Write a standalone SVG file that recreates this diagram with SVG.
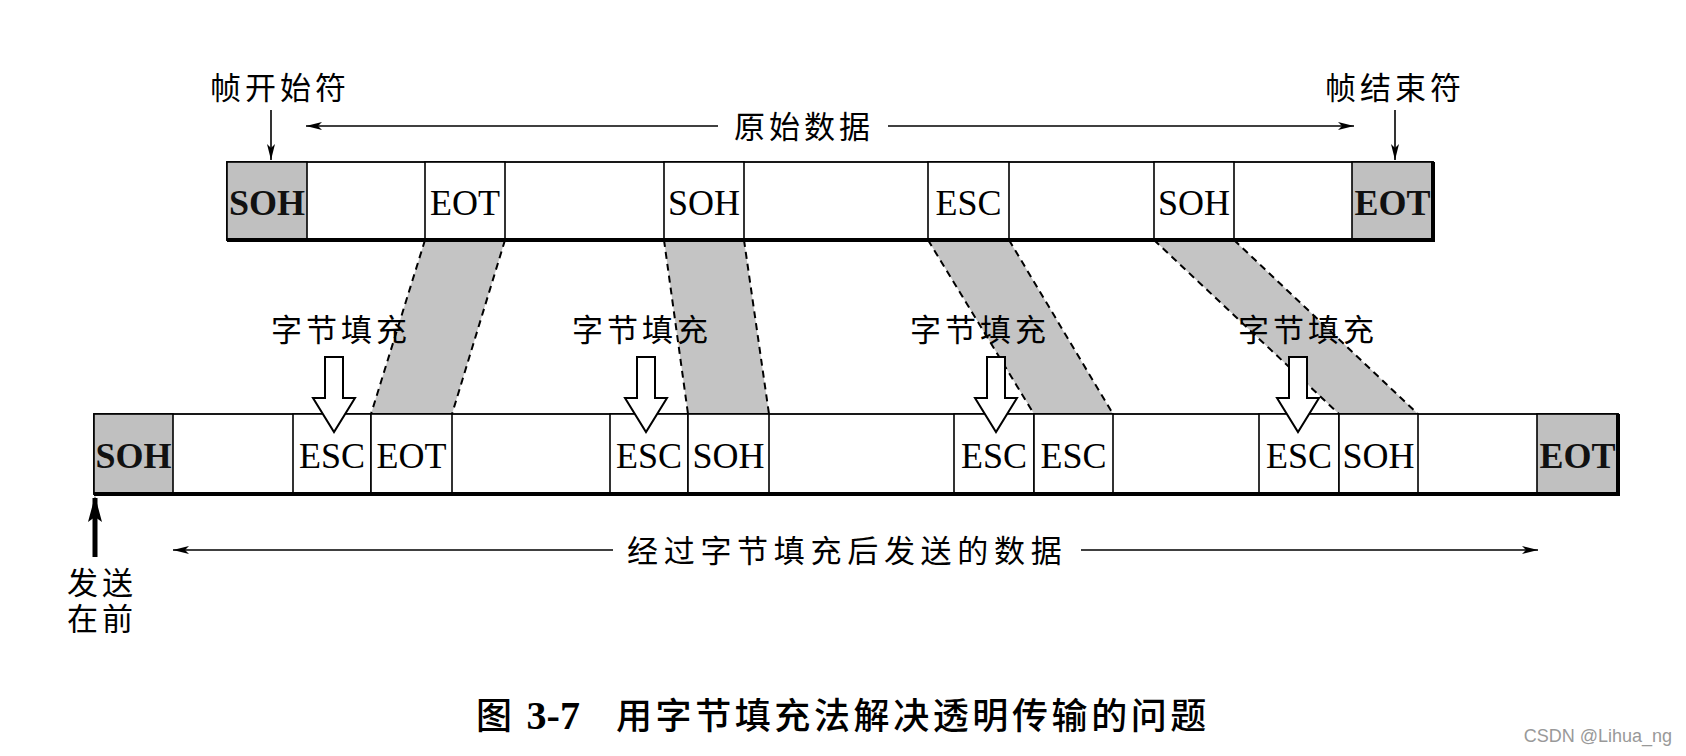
<svg xmlns="http://www.w3.org/2000/svg" width="1686" height="756" viewBox="0 0 1686 756">
<style>
.frame{fill:#fff;stroke:#000;stroke-width:1.8}
.cell{fill:#fff;stroke:#000;stroke-width:1.6}
.shade{fill:#c0c0c0;stroke:#000;stroke-width:1.6}
.code{font-family:"Liberation Serif","Times New Roman",serif;font-size:36px;fill:#000;text-anchor:middle}
.codeb{font-family:"Liberation Serif","Times New Roman",serif;font-size:36px;font-weight:bold;fill:#111;text-anchor:middle}
.cjk{font-family:"Noto Sans CJK SC","Noto Sans",sans-serif;font-size:31px;letter-spacing:4px;fill:#000}
.cap{font-family:"Noto Sans CJK SC","Noto Sans",sans-serif;font-size:36px;letter-spacing:3.6px;fill:#000;font-weight:500}
.line{stroke:#000;stroke-width:1.6;fill:none}
.thick{stroke:#000;stroke-width:4;fill:none}
.band{fill:#c4c4c4;stroke:none}
.dash{stroke:#000;stroke-width:2;stroke-dasharray:7 5;fill:none}
.hollow{fill:#fff;stroke:#000;stroke-width:2;stroke-linejoin:miter}
</style>
<defs>
<marker id="ah" viewBox="0 0 16 10" refX="16" refY="5" markerWidth="16" markerHeight="10" markerUnits="userSpaceOnUse" orient="auto-start-reverse">
<path d="M0,1 L16,5 L0,9 L4,5 Z" fill="#000"/>
</marker>
<marker id="ahb" viewBox="0 0 26 16" refX="24" refY="8" markerWidth="26" markerHeight="16" markerUnits="userSpaceOnUse" orient="auto">
<path d="M0,1 L26,8 L0,15 L5,8 Z" fill="#000"/>
</marker>
</defs>
<rect width="1686" height="756" fill="#fff"/>

<g id="connectors">
  <polygon class="band" points="425,240 505,240 452,414 371,414"/>
  <line class="dash" x1="425" y1="240" x2="371" y2="414"/>
  <line class="dash" x1="505" y1="240" x2="452" y2="414"/>
  <polygon class="band" points="664,240 744,240 769,414 688,414"/>
  <line class="dash" x1="664" y1="240" x2="688" y2="414"/>
  <line class="dash" x1="744" y1="240" x2="769" y2="414"/>
  <polygon class="band" points="928,240 1009,240 1113,414 1034,414"/>
  <line class="dash" x1="928" y1="240" x2="1034" y2="414"/>
  <line class="dash" x1="1009" y1="240" x2="1113" y2="414"/>
  <polygon class="band" points="1154,240 1234,240 1418,414 1339,414"/>
  <line class="dash" x1="1154" y1="240" x2="1339" y2="414"/>
  <line class="dash" x1="1234" y1="240" x2="1418" y2="414"/>
  <line class="line" x1="271" y1="110" x2="271" y2="160" marker-end="url(#ah)"/>
  <line class="line" x1="1395" y1="110" x2="1395" y2="160" marker-end="url(#ah)"/>
  <line class="line" x1="718" y1="126" x2="306" y2="126" marker-end="url(#ah)"/>
  <line class="line" x1="888" y1="126" x2="1354" y2="126" marker-end="url(#ah)"/>
  <line class="line" x1="613" y1="550" x2="173" y2="550" marker-end="url(#ah)"/>
  <line class="line" x1="1081" y1="550" x2="1538" y2="550" marker-end="url(#ah)"/>
  <line stroke="#000" stroke-width="5" x1="95" y1="557" x2="95" y2="498" marker-end="url(#ahb)"/>
</g>

<g id="top-row">
  <rect class="frame" x="227" y="162" width="1206" height="78"/>
  <g id="t-soh1"><rect class="shade" x="227" y="162" width="80" height="78"/><text class="codeb" x="267" y="215">SOH</text></g>
  <g id="t-eot1"><rect class="cell" x="425" y="162" width="80" height="78"/><text class="code" x="465" y="215">EOT</text></g>
  <g id="t-soh2"><rect class="cell" x="664" y="162" width="80" height="78"/><text class="code" x="704" y="215">SOH</text></g>
  <g id="t-esc1"><rect class="cell" x="928" y="162" width="81" height="78"/><text class="code" x="968.5" y="215">ESC</text></g>
  <g id="t-soh3"><rect class="cell" x="1154" y="162" width="80" height="78"/><text class="code" x="1194" y="215">SOH</text></g>
  <g id="t-eot2"><rect class="shade" x="1352" y="162" width="81" height="78"/><text class="codeb" x="1392.5" y="215">EOT</text></g>
  <line class="thick" x1="227" y1="240" x2="1435" y2="240"/>
  <line class="thick" x1="1433" y1="162" x2="1433" y2="242"/>
</g>

<g id="bottom-row">
  <rect class="frame" x="94" y="414" width="1524" height="80"/>
  <g id="b-soh1"><rect class="shade" x="94" y="414" width="79" height="80"/><text class="codeb" x="133.5" y="468">SOH</text></g>
  <g id="b-esc1"><rect class="cell" x="293" y="414" width="78" height="80"/><text class="code" x="332" y="468">ESC</text></g>
  <g id="b-eot1"><rect class="cell" x="371" y="414" width="81" height="80"/><text class="code" x="411.5" y="468">EOT</text></g>
  <g id="b-esc2"><rect class="cell" x="610" y="414" width="78" height="80"/><text class="code" x="649" y="468">ESC</text></g>
  <g id="b-soh2"><rect class="cell" x="688" y="414" width="81" height="80"/><text class="code" x="728.5" y="468">SOH</text></g>
  <g id="b-esc3"><rect class="cell" x="954" y="414" width="80" height="80"/><text class="code" x="994" y="468">ESC</text></g>
  <g id="b-esc4"><rect class="cell" x="1034" y="414" width="79" height="80"/><text class="code" x="1073.5" y="468">ESC</text></g>
  <g id="b-esc5"><rect class="cell" x="1259" y="414" width="80" height="80"/><text class="code" x="1299" y="468">ESC</text></g>
  <g id="b-soh3"><rect class="cell" x="1339" y="414" width="79" height="80"/><text class="code" x="1378.5" y="468">SOH</text></g>
  <g id="b-eot2"><rect class="shade" x="1537" y="414" width="81" height="80"/><text class="codeb" x="1577.5" y="468">EOT</text></g>
  <line class="thick" x1="94" y1="494" x2="1620" y2="494"/>
  <line class="thick" x1="1618" y1="414" x2="1618" y2="496"/>
</g>

<g id="stuff-1"><text class="cjk" x="271" y="341">字节填充</text><path class="hollow" d="M325,357 H343 V398 H355 L334,432 L313,398 H325 Z"/></g>
<g id="stuff-2"><text class="cjk" x="572" y="341">字节填充</text><path class="hollow" d="M637,357 H655 V398 H667 L646,432 L625,398 H637 Z"/></g>
<g id="stuff-3"><text class="cjk" x="910" y="341">字节填充</text><path class="hollow" d="M987,357 H1005 V398 H1017 L996,432 L975,398 H987 Z"/></g>
<g id="stuff-4"><text class="cjk" x="1238" y="341">字节填充</text><path class="hollow" d="M1289,357 H1307 V398 H1319 L1298,432 L1277,398 H1289 Z"/></g>

<g id="labels">
  <text class="cjk" x="210" y="99">帧开始符</text>
  <text class="cjk" x="1325" y="99">帧结束符</text>
  <text class="cjk" x="734" y="138">原始数据</text>
  <text class="cjk" x="627" y="562" style="letter-spacing:5.7px">经过字节填充后发送的数据</text>
  <text class="cjk" x="67" y="594">发送<tspan x="67" y="630">在前</tspan></text>
</g>

<g id="caption">
  <text class="cap" x="476" y="729">图<tspan font-family="Liberation Serif,serif" font-weight="bold" font-size="40" letter-spacing="0" dx="11">3-7</tspan><tspan dx="36">用字节填充法解决透明传输的问题</tspan></text>
  <text x="1672" y="742" font-family="Liberation Sans,Arial,sans-serif" font-size="18" fill="#999" text-anchor="end">CSDN @Lihua_ng</text>
</g>
</svg>
